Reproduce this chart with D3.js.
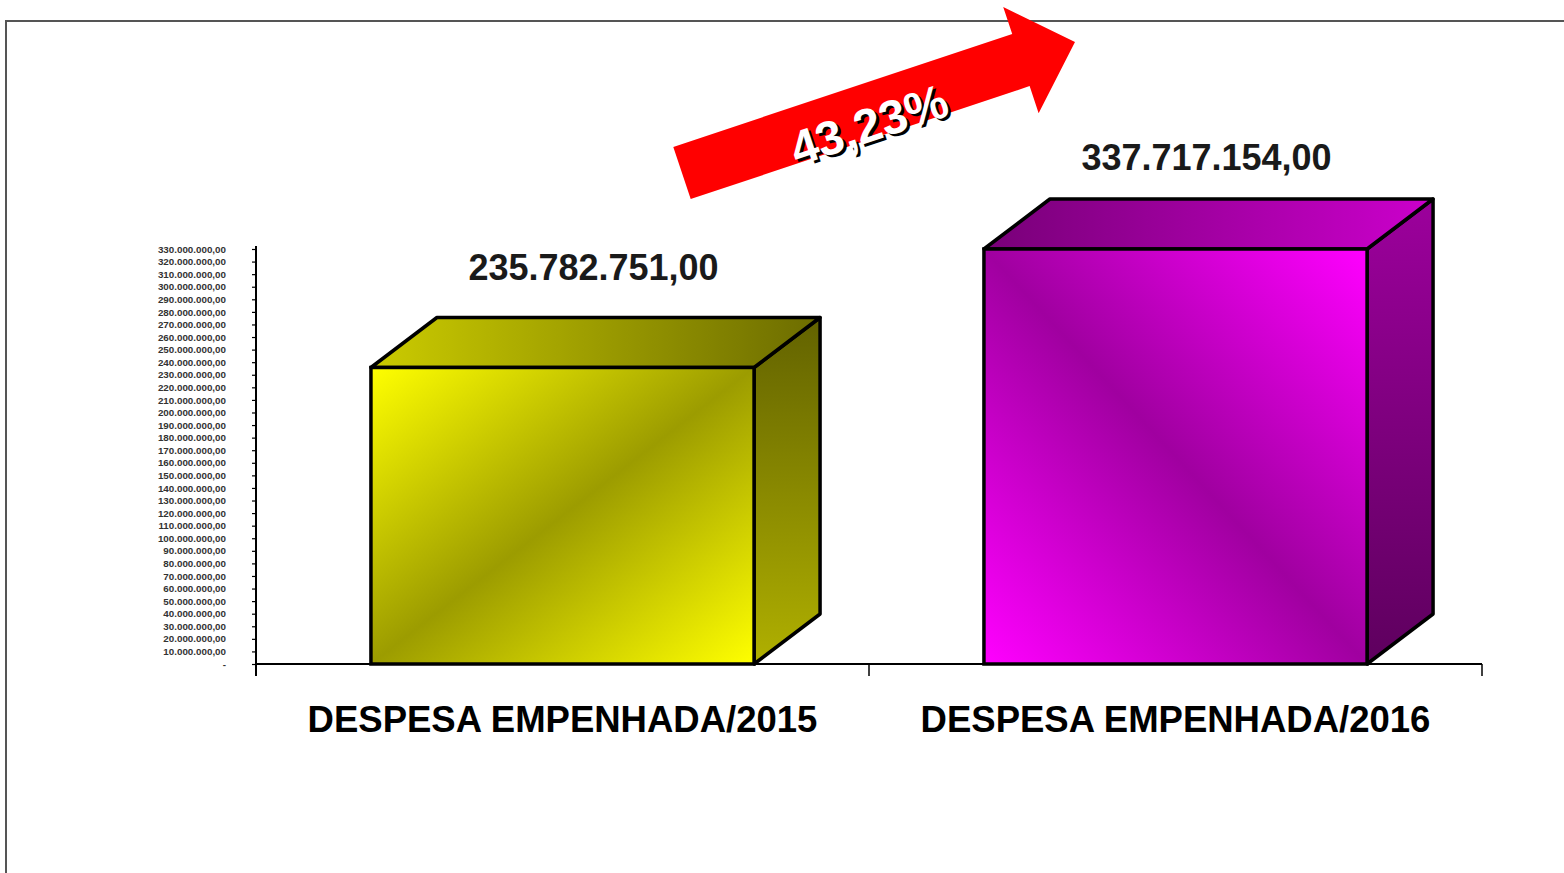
<!DOCTYPE html>
<html>
<head>
<meta charset="utf-8">
<script src="https://cdn.jsdelivr.net/npm/d3@7"></script>
<style>
  body { margin: 0; background: #fff; }
  svg { display: block; font-family: "Liberation Sans", Arial, sans-serif; }
</style>
</head>
<body>
<svg id="chart"></svg>
<script>
const width = 1564;
const height = 873;

// 数据
const categories = ["DESPESA EMPENHADA/2015", "DESPESA EMPENHADA/2016"];
const values = [235782751.0, 337717154.0];
const yMax = 330000000;
const yStep = 10000000;

// 每根柱子的颜色（正面 / 顶面 / 侧面）
const frontColors = [["#ffff00", "#9c9c00"], ["#ff00ff", "#a000a0"]];
const topColors = [["#cccc00", "#6c6c00"], ["#780078", "#cc00cc"]];
const sideColors = [["#626200", "#b0b000"], ["#9c009c", "#5e005e"]];

const plotLeft = 256;
const plotRight = 1482;
const plotTop = 249;
const plotBottom = 664;
const depthX = 66;
const depthY = -50;

// 巴西格式：330.000.000,00
const ptBR = d3.formatLocale({ decimal: ",", thousands: ".", grouping: [3], currency: ["R$", ""] });
const fmt = ptBR.format(",.2f");

const svg = d3.select("#chart").attr("width", width).attr("height", height);
const defs = svg.append("defs");

// 外框
svg.append("path")
  .attr("d", `M6,${height} L6,21 L${width},21`)
  .attr("fill", "none")
  .attr("stroke", "#555")
  .attr("stroke-width", 2);

const xScale = d3.scaleBand().domain(categories).range([plotLeft, plotRight]).padding(0);

// clamp：超过最大值的柱子被截断（和原图一样）
const yScale = d3.scaleLinear().domain([0, yMax]).range([plotBottom, plotTop]).clamp(true);

const barWidth = xScale.bandwidth() * 0.625;

// 渐变
function addGradient(id, c, x1, y1, x2, y2, mirror) {
  const g = defs.append("linearGradient").attr("id", id)
    .attr("x1", x1).attr("y1", y1).attr("x2", x2).attr("y2", y2);
  if (mirror) {
    g.append("stop").attr("offset", "0%").attr("stop-color", c[0]);
    g.append("stop").attr("offset", "50%").attr("stop-color", c[1]);
    g.append("stop").attr("offset", "100%").attr("stop-color", c[0]);
  } else {
    g.append("stop").attr("offset", "0%").attr("stop-color", c[0]);
    g.append("stop").attr("offset", "100%").attr("stop-color", c[1]);
  }
}
addGradient("front0", frontColors[0], 0, 0, 1, 1, true);
addGradient("front1", frontColors[1], 0, 1, 1, 0, true);
categories.forEach((c, i) => {
  addGradient("top" + i, topColors[i], 0, 0, 1, 0, false);
  addGradient("side" + i, sideColors[i], 0, 0, 0, 1, false);
});

// y轴
const yAxis = svg.append("g")
  .attr("transform", `translate(${plotLeft},0)`)
  .call(d3.axisLeft(yScale)
    .tickValues(d3.range(0, yMax + 1, yStep))
    .tickSize(4)
    .tickPadding(26)
    .tickFormat((d) => (d === 0 ? "-" : fmt(d))));
yAxis.select(".domain").remove();
yAxis.selectAll("line").attr("stroke", "#000").attr("stroke-width", 1.2);
yAxis.selectAll("text")
  .attr("font-family", "'Liberation Sans', Arial, sans-serif")
  .attr("font-size", "9.8px")
  .attr("font-weight", "bold")
  .attr("fill", "#333");

svg.append("line")
  .attr("x1", plotLeft).attr("x2", plotLeft)
  .attr("y1", plotTop - 3).attr("y2", plotBottom + 12)
  .attr("stroke", "#000").attr("stroke-width", 2);

// 柱子（3D）
const bars = svg.append("g").selectAll("g").data(values).join("g");

bars.each(function (v, i) {
  const g = d3.select(this);
  const x0 = xScale(categories[i]) + (xScale.bandwidth() - barWidth) / 2;
  const x1 = x0 + barWidth;
  const yTop = yScale(v);
  const y0 = yScale(0);

  // 侧面
  g.append("path")
    .attr("d", `M${x1},${yTop} L${x1 + depthX},${yTop + depthY} L${x1 + depthX},${y0 + depthY} L${x1},${y0} Z`)
    .attr("fill", `url(#side${i})`)
    .attr("stroke", "#000").attr("stroke-width", 3.5).attr("stroke-linejoin", "round");
  // 顶面
  g.append("path")
    .attr("d", `M${x0},${yTop} L${x0 + depthX},${yTop + depthY} L${x1 + depthX},${yTop + depthY} L${x1},${yTop} Z`)
    .attr("fill", `url(#top${i})`)
    .attr("stroke", "#000").attr("stroke-width", 3.5).attr("stroke-linejoin", "round");
  // 正面
  g.append("rect")
    .attr("x", x0).attr("y", yTop)
    .attr("width", barWidth).attr("height", y0 - yTop)
    .attr("fill", `url(#front${i})`)
    .attr("stroke", "#000").attr("stroke-width", 3.5);

  // 数值标签
  g.append("text")
    .attr("x", xScale(categories[i]) + xScale.bandwidth() / 2 + 31)
    .attr("y", yTop + depthY - 33 + (i === 0 ? -4 : 4))
    .attr("text-anchor", "middle")
    .attr("font-size", "36px")
    .attr("font-weight", "bold")
    .attr("fill", "#1a1a1a")
    .text(fmt(v));
});

// x轴
svg.append("line")
  .attr("x1", plotLeft).attr("x2", plotRight)
  .attr("y1", plotBottom).attr("y2", plotBottom)
  .attr("stroke", "#000").attr("stroke-width", 2);

const xTicks = categories.map((c) => xScale(c)).concat([plotRight]);
svg.append("g").selectAll("line").data(xTicks).join("line")
  .attr("x1", (d) => d).attr("x2", (d) => d)
  .attr("y1", plotBottom).attr("y2", plotBottom + 12)
  .attr("stroke", "#000").attr("stroke-width", 1.5);

svg.append("g").selectAll("text").data(categories).join("text")
  .attr("x", (d) => xScale(d) + xScale.bandwidth() / 2)
  .attr("y", 732)
  .attr("text-anchor", "middle")
  .attr("font-size", "36.5px")
  .attr("font-weight", "bold")
  .attr("fill", "#000")
  .text((d) => d);

// 红色箭头 + 增长率
const growth = (values[1] / values[0] - 1) * 100;
const growthText = ptBR.format(".2f")(growth) + "%";

const arrowStart = [682, 173];
const arrowEnd = [1075, 42];
const arrowLen = Math.hypot(arrowEnd[0] - arrowStart[0], arrowEnd[1] - arrowStart[1]);
const arrowAngle = Math.atan2(arrowEnd[1] - arrowStart[1], arrowEnd[0] - arrowStart[0]) * 180 / Math.PI;
const shaftHalf = 27.5;
const headHalf = 56;
const headLen = 57;

const arrow = svg.append("g")
  .attr("transform", `translate(${arrowStart[0]},${arrowStart[1]}) rotate(${arrowAngle})`);

arrow.append("path")
  .attr("d", d3.line()([
    [0, -shaftHalf], [arrowLen - headLen, -shaftHalf], [arrowLen - headLen, -headHalf],
    [arrowLen, 0],
    [arrowLen - headLen, headHalf], [arrowLen - headLen, shaftHalf], [0, shaftHalf]
  ]) + "Z")
  .attr("fill", "#ff0000");

// 阴影
const textX = arrowLen * 0.465;
const textY = 30;
arrow.append("text")
  .attr("x", textX + 2).attr("y", textY + 3)
  .attr("text-anchor", "middle")
  .attr("font-size", "48px").attr("font-weight", "bold")
  .attr("fill", "#000")
  .text(growthText);
arrow.append("text")
  .attr("x", textX).attr("y", textY)
  .attr("text-anchor", "middle")
  .attr("font-size", "48px").attr("font-weight", "bold")
  .attr("fill", "#fff")
  .text(growthText);
</script>
</body>
</html>
